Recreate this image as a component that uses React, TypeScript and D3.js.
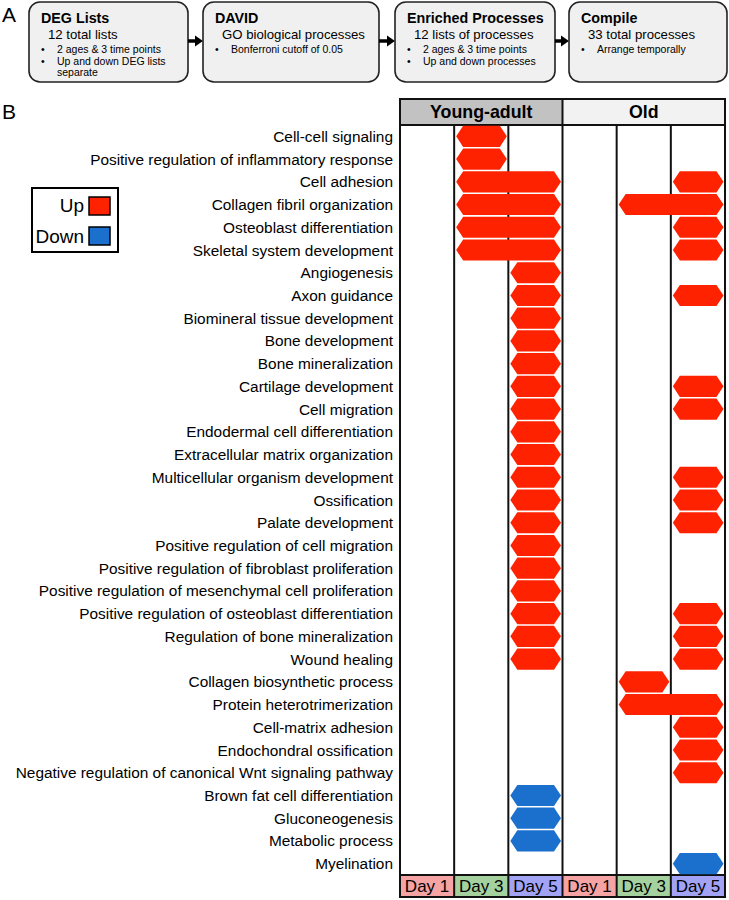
import React from 'react';
import * as d3 from 'd3';

const FONT = '"Liberation Sans", Arial, Helvetica, sans-serif';

// Panel A: workflow steps
const stepTitles = ['DEG Lists', 'DAVID', 'Enriched Processes', 'Compile'];
const stepSubtitles = ['12 total lists', 'GO biological processes', '12 lists of processes', '33 total processes'];
const stepBullets = [
  ['2 ages & 3 time points', 'Up and down DEG lists', 'separate'],
  ['Bonferroni cutoff of 0.05'],
  ['2 ages & 3 time points', 'Up and down processes'],
  ['Arrange temporally'],
];
const bulletMarks = [[true, true, false], [true], [true, true], [true]];

// Panel B: categories
const ages = ['Young-adult', 'Old'];
const days = ['Day 1', 'Day 3', 'Day 5'];
const processes = [
  'Cell-cell signaling',
  'Positive regulation of inflammatory response',
  'Cell adhesion',
  'Collagen fibril organization',
  'Osteoblast differentiation',
  'Skeletal system development',
  'Angiogenesis',
  'Axon guidance',
  'Biomineral tissue development',
  'Bone development',
  'Bone mineralization',
  'Cartilage development',
  'Cell migration',
  'Endodermal cell differentiation',
  'Extracellular matrix organization',
  'Multicellular organism development',
  'Ossification',
  'Palate development',
  'Positive regulation of cell migration',
  'Positive regulation of fibroblast proliferation',
  'Positive regulation of mesenchymal cell proliferation',
  'Positive regulation of osteoblast differentiation',
  'Regulation of bone mineralization',
  'Wound healing',
  'Collagen biosynthetic process',
  'Protein heterotrimerization',
  'Cell-matrix adhesion',
  'Endochondral ossification',
  'Negative regulation of canonical Wnt signaling pathway',
  'Brown fat cell differentiation',
  'Gluconeogenesis',
  'Metabolic process',
  'Myelination',
];

// [process, first day, last day, direction]
const youngSpans: [string, string, string, string][] = [
  ['Cell-cell signaling', 'Day 3', 'Day 3', 'Up'],
  ['Positive regulation of inflammatory response', 'Day 3', 'Day 3', 'Up'],
  ['Cell adhesion', 'Day 3', 'Day 5', 'Up'],
  ['Collagen fibril organization', 'Day 3', 'Day 5', 'Up'],
  ['Osteoblast differentiation', 'Day 3', 'Day 5', 'Up'],
  ['Skeletal system development', 'Day 3', 'Day 5', 'Up'],
  ['Angiogenesis', 'Day 5', 'Day 5', 'Up'],
  ['Axon guidance', 'Day 5', 'Day 5', 'Up'],
  ['Biomineral tissue development', 'Day 5', 'Day 5', 'Up'],
  ['Bone development', 'Day 5', 'Day 5', 'Up'],
  ['Bone mineralization', 'Day 5', 'Day 5', 'Up'],
  ['Cartilage development', 'Day 5', 'Day 5', 'Up'],
  ['Cell migration', 'Day 5', 'Day 5', 'Up'],
  ['Endodermal cell differentiation', 'Day 5', 'Day 5', 'Up'],
  ['Extracellular matrix organization', 'Day 5', 'Day 5', 'Up'],
  ['Multicellular organism development', 'Day 5', 'Day 5', 'Up'],
  ['Ossification', 'Day 5', 'Day 5', 'Up'],
  ['Palate development', 'Day 5', 'Day 5', 'Up'],
  ['Positive regulation of cell migration', 'Day 5', 'Day 5', 'Up'],
  ['Positive regulation of fibroblast proliferation', 'Day 5', 'Day 5', 'Up'],
  ['Positive regulation of mesenchymal cell proliferation', 'Day 5', 'Day 5', 'Up'],
  ['Positive regulation of osteoblast differentiation', 'Day 5', 'Day 5', 'Up'],
  ['Regulation of bone mineralization', 'Day 5', 'Day 5', 'Up'],
  ['Wound healing', 'Day 5', 'Day 5', 'Up'],
  ['Brown fat cell differentiation', 'Day 5', 'Day 5', 'Down'],
  ['Gluconeogenesis', 'Day 5', 'Day 5', 'Down'],
  ['Metabolic process', 'Day 5', 'Day 5', 'Down'],
];

const oldSpans: [string, string, string, string][] = [
  ['Cell adhesion', 'Day 5', 'Day 5', 'Up'],
  ['Collagen fibril organization', 'Day 3', 'Day 5', 'Up'],
  ['Osteoblast differentiation', 'Day 5', 'Day 5', 'Up'],
  ['Skeletal system development', 'Day 5', 'Day 5', 'Up'],
  ['Axon guidance', 'Day 5', 'Day 5', 'Up'],
  ['Cartilage development', 'Day 5', 'Day 5', 'Up'],
  ['Cell migration', 'Day 5', 'Day 5', 'Up'],
  ['Multicellular organism development', 'Day 5', 'Day 5', 'Up'],
  ['Ossification', 'Day 5', 'Day 5', 'Up'],
  ['Palate development', 'Day 5', 'Day 5', 'Up'],
  ['Positive regulation of osteoblast differentiation', 'Day 5', 'Day 5', 'Up'],
  ['Regulation of bone mineralization', 'Day 5', 'Day 5', 'Up'],
  ['Wound healing', 'Day 5', 'Day 5', 'Up'],
  ['Collagen biosynthetic process', 'Day 3', 'Day 3', 'Up'],
  ['Protein heterotrimerization', 'Day 3', 'Day 5', 'Up'],
  ['Cell-matrix adhesion', 'Day 5', 'Day 5', 'Up'],
  ['Endochondral ossification', 'Day 5', 'Day 5', 'Up'],
  ['Negative regulation of canonical Wnt signaling pathway', 'Day 5', 'Day 5', 'Up'],
  ['Myelination', 'Day 5', 'Day 5', 'Down'],
];

const directions = ['Up', 'Down'];
const directionColors = ['#ff2200', '#1b6fcd'];
const dayColors = ['#f5a3a3', '#a5d19e', '#a3a3f5'];
const ageHeaderColors = ['#c2c2c2', '#f2f2f2'];

const App: React.FC = () => {
  const width = 729;
  const height = 900;

  // panel B geometry
  const gridLeft = 400;
  const gridRight = 725;
  const headerTop = 99;
  const rowsTop = 125;
  const rowsBottom = 875;
  const footerBottom = 897;

  const colKeys = ages.flatMap((a) => days.map((d) => `${a}|${d}`));
  const x = d3.scaleBand<string>().domain(colKeys).range([gridLeft, gridRight]);
  const y = d3.scaleBand<string>().domain(processes).range([rowsTop, rowsBottom]);
  const color = d3.scaleOrdinal<string, string>().domain(directions).range(directionColors);
  const dayColor = d3.scaleOrdinal<string, string>().domain(days).range(dayColors);

  const hexPath = (x0: number, x1: number, yc: number, h: number) => {
    const s = 7;
    const p = d3.path();
    p.moveTo(x0, yc);
    p.lineTo(x0 + s, yc - h / 2);
    p.lineTo(x1 - s, yc - h / 2);
    p.lineTo(x1, yc);
    p.lineTo(x1 - s, yc + h / 2);
    p.lineTo(x0 + s, yc + h / 2);
    p.closePath();
    return p.toString();
  };

  const spans = [
    ...youngSpans.map((s) => ({ age: ages[0], s })),
    ...oldSpans.map((s) => ({ age: ages[1], s })),
  ];

  // panel A geometry
  const boxes = [
    [29, 188],
    [203, 379],
    [395, 555],
    [569, 727],
  ];
  const boxTop = 2;
  const boxBottom = 82;
  const bulletY = [53, 65, 76];

  return (
    <svg
      width={width}
      height={height}
      style={{ position: 'absolute', left: 0, top: 0, background: '#fff' }}
      fontFamily={FONT}
    >
      <rect width={width} height={height} fill="#fff" />
      {/* Panel A */}
      <text x={2} y={22} fontSize={21}>A</text>
      {boxes.map(([x0, x1], i) => (
        <g key={i}>
          <rect x={x0} y={boxTop} width={x1 - x0} height={boxBottom - boxTop} rx={11} ry={11}
            fill="#f0f0f0" stroke="#222" strokeWidth={1.6} />
          <text x={x0 + 12} y={23} fontSize={14.3} fontWeight="bold">{stepTitles[i]}</text>
          <text x={x0 + 19} y={39} fontSize={13.2}>{stepSubtitles[i]}</text>
          {stepBullets[i].map((b, j) => (
            <g key={j}>
              {bulletMarks[i][j] && <text x={x0 + 12} y={bulletY[j]} fontSize={10.5}>•</text>}
              <text x={x0 + 28} y={bulletY[j]} fontSize={10.5}>{b}</text>
            </g>
          ))}
          {i < boxes.length - 1 && (
            <g>
              <line x1={x1} x2={boxes[i + 1][0] - 6} y1={41} y2={41} stroke="#000" strokeWidth={3.5} />
              <path d={`M${boxes[i + 1][0]},41 L${boxes[i + 1][0] - 8},35.5 L${boxes[i + 1][0] - 8},46.5 Z`} fill="#000" />
            </g>
          )}
        </g>
      ))}

      {/* Panel B */}
      <text x={2} y={119} fontSize={21}>B</text>

      {/* legend */}
      <rect x={32} y={188} width={86} height={64} fill="#fff" stroke="#000" strokeWidth={2} />
      {directions.map((d, i) => (
        <g key={d}>
          <text x={84} y={212 + i * 31} fontSize={19} textAnchor="end">{d}</text>
          <rect x={89} y={197 + i * 30} width={21} height={18} fill={color(d)} stroke="#000" strokeWidth={1.5} />
        </g>
      ))}

      {/* row labels */}
      {processes.map((p) => (
        <text key={p} x={393} y={(y(p) ?? 0) + y.bandwidth() / 2} dy="0.36em" fontSize={15.4} textAnchor="end">{p}</text>
      ))}

      {/* age headers */}
      {ages.map((a, i) => {
        const x0 = x(`${a}|${days[0]}`) ?? 0;
        const x1 = (x(`${a}|${days[2]}`) ?? 0) + x.bandwidth();
        return (
          <g key={a}>
            <rect x={x0} y={headerTop} width={x1 - x0} height={rowsTop - headerTop} fill={ageHeaderColors[i]} />
            <text x={(x0 + x1) / 2} y={118} fontSize={17.8} fontWeight="bold" textAnchor="middle">{a}</text>
          </g>
        );
      })}

      {/* day footer */}
      {colKeys.map((k) => {
        const d = k.split('|')[1];
        return (
          <g key={k}>
            <rect x={x(k)} y={rowsBottom} width={x.bandwidth()} height={footerBottom - rowsBottom} fill={dayColor(d)} />
            <text x={(x(k) ?? 0) + x.bandwidth() / 2} y={892} fontSize={17} textAnchor="middle">{d}</text>
          </g>
        );
      })}

      {/* grid lines */}
      {colKeys.map((k) => (
        <line key={k} x1={x(k)} x2={x(k)} y1={rowsTop} y2={footerBottom} stroke="#111" strokeWidth={2} />
      ))}
      <line x1={x(`${ages[1]}|${days[0]}`)} x2={x(`${ages[1]}|${days[0]}`)} y1={headerTop} y2={rowsTop} stroke="#111" strokeWidth={2} />
      <rect x={gridLeft} y={headerTop} width={gridRight - gridLeft} height={footerBottom - headerTop} fill="none" stroke="#111" strokeWidth={2} />
      <line x1={gridLeft} x2={gridRight} y1={rowsTop} y2={rowsTop} stroke="#111" strokeWidth={2} />
      <line x1={gridLeft} x2={gridRight} y1={rowsBottom} y2={rowsBottom} stroke="#111" strokeWidth={2} />

      {/* enrichment hexagons */}
      {spans.map(({ age, s }, i) => {
        const [proc, d0, d1, dir] = s;
        const x0 = (x(`${age}|${d0}`) ?? 0) + 2;
        const x1 = (x(`${age}|${d1}`) ?? 0) + x.bandwidth() - 1.5;
        const yc = (y(proc) ?? 0) + y.bandwidth() / 2;
        return <path key={i} d={hexPath(x0, x1, yc, y.bandwidth() - 1.6)} fill={color(dir)} />;
      })}
    </svg>
  );
};

export default App;
